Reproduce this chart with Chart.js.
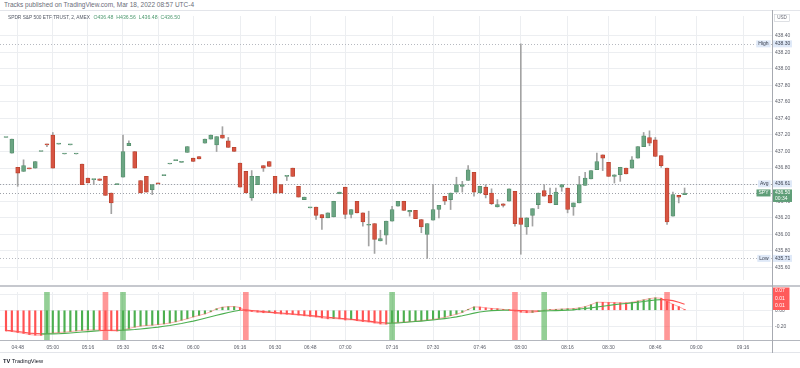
<!DOCTYPE html>
<html><head><meta charset="utf-8">
<script src="https://cdn.jsdelivr.net/npm/chart.js@4.4.0/dist/chart.umd.min.js"></script>
<style>
html,body{margin:0;padding:0;background:#fff;}
#wrap{position:relative;width:800px;height:368px;overflow:hidden;font-family:'Liberation Sans',Arial,sans-serif;background:#fff;}
canvas{position:absolute;left:0;}
#main{top:10px;}
#ind{top:286px;}
.t{position:absolute;white-space:nowrap;transform:scale(0.5);transform-origin:left top;}
.ln{position:absolute;}
</style></head><body>
<div id="wrap">
<canvas id="main" width="800" height="276"></canvas>
<canvas id="ind" width="800" height="82"></canvas>
<div class="t" style="left:4px;top:1px;font-size:13px;color:#6a6d78;">Tracks published on TradingView.com, Mar 18, 2022 08:57 UTC-4</div>
<div class="t" style="left:8px;top:13.5px;font-size:9.6px;color:#555a66;">SPDR S&amp;P 500 ETF TRUST, 2, AMEX<span style="margin-left:7px;font-size:10.4px;color:#4f9a70;">O436.48&nbsp;&nbsp;H436.56&nbsp;&nbsp;L436.48&nbsp;&nbsp;C436.50</span></div>
<div class="t" style="left:3px;top:358px;font-size:11.4px;color:#131722;"><b>TV</b> TradingView</div>
<div class="ln" style="left:0;top:10px;width:800px;height:1px;background:#e3e5ea;"></div>
<div class="ln" style="left:0;top:285px;width:800px;height:2px;background:#c6c8ce;"></div>
<div class="ln" style="left:0;top:340px;width:800px;height:1px;background:#b4b7be;"></div>
<div class="ln" style="left:0;top:352px;width:800px;height:1px;background:#e3e5ea;"></div>
<div class="ln" style="left:772px;top:10px;width:1px;height:343px;background:#a7aab1;"></div>
</div>
<script>
// ---------------- DATA ----------------
const OPEN = [437.17,436.98,436.81,436.76,436.80,436.80,437.00,437.09,437.20,437.09,
436.97,437.08,436.97,436.85,436.68,436.66,436.67,436.70,436.50,436.60,
436.69,437.07,437.00,436.65,436.70,436.54,436.62,436.71,436.85,436.89,
436.87,436.99,436.92,436.94,437.10,437.15,437.08,437.20,437.13,437.05,
436.86,436.76,436.44,436.60,436.83,436.88,436.70,436.60,436.70,436.80,
436.58,436.42,436.32,436.33,436.24,436.20,436.21,436.49,436.57,436.24,
436.40,436.26,436.11,436.13,435.92,435.99,436.16,436.34,436.40,436.27,
436.29,436.18,436.00,436.17,436.30,436.46,436.42,436.51,436.58,436.65,
436.75,436.50,436.57,436.50,436.33,436.37,436.40,436.52,436.20,436.09,
436.23,436.36,436.53,436.47,436.36,436.57,436.56,436.33,436.38,436.59,
436.67,436.78,436.96,436.87,436.70,436.72,436.80,436.80,436.92,437.06,
437.17,437.14,436.95,436.80,436.22,436.47,436.48];
const HIGH = [437.17,437.15,436.81,436.90,436.80,436.88,437.00,437.09,437.23,437.09,
436.97,437.08,436.97,436.85,436.68,436.66,436.67,436.70,436.50,436.61,
437.20,437.13,437.00,436.65,436.70,436.60,436.62,436.71,436.85,436.89,
436.87,437.06,436.92,436.94,437.15,437.20,437.18,437.30,437.17,437.05,
436.86,436.76,436.77,436.70,436.83,436.88,436.70,436.60,436.70,436.80,
436.58,436.45,436.32,436.33,436.24,436.26,436.40,436.51,436.57,436.30,
436.40,436.26,436.28,436.13,436.05,436.16,436.34,436.40,436.40,436.29,
436.29,436.18,436.13,436.60,436.35,436.46,436.50,436.69,436.64,436.83,
436.75,436.58,436.60,436.55,436.42,436.37,436.55,436.52,438.30,436.20,
436.31,436.50,436.60,436.56,436.56,436.60,436.56,436.38,436.70,436.75,
436.77,436.98,436.96,436.87,436.72,436.81,436.80,436.94,437.06,437.23,
437.25,437.17,436.95,436.80,436.51,436.47,436.56];
const LOW = [437.17,436.98,436.58,436.76,436.79,436.80,437.00,437.06,436.80,437.09,
436.97,437.08,436.97,436.60,436.62,436.60,436.65,436.47,436.25,436.60,
436.69,437.07,436.80,436.50,436.51,436.48,436.61,436.71,436.85,436.89,
436.87,436.99,436.88,436.91,437.10,437.15,437.00,437.16,437.05,437.00,
436.57,436.50,436.41,436.60,436.76,436.82,436.50,436.50,436.65,436.70,
436.45,436.42,436.32,436.18,436.06,436.20,436.21,436.49,436.19,436.20,
436.26,436.10,435.86,435.77,435.92,435.88,436.16,436.34,436.29,436.22,
436.19,436.02,435.71,436.17,436.20,436.36,436.30,436.51,436.51,436.65,
436.46,436.50,436.44,436.36,436.33,436.33,436.40,436.10,435.76,436.00,
436.10,436.31,436.46,436.38,436.36,436.52,436.26,436.23,436.38,436.59,
436.67,436.78,436.77,436.70,436.62,436.64,436.73,436.80,436.92,437.06,
437.07,436.94,436.81,436.12,436.22,436.38,436.48];
const CLOSE = [437.17,437.15,436.74,436.83,436.79,436.88,437.00,437.08,436.80,437.09,
436.97,437.08,436.97,436.60,436.62,436.66,436.65,436.47,436.38,436.61,
437.00,437.10,436.80,436.50,436.51,436.60,436.61,436.71,436.85,436.89,
436.87,437.06,436.88,436.91,437.15,437.20,437.18,437.16,437.05,437.00,
436.57,436.50,436.70,436.70,436.80,436.82,436.50,436.50,436.70,436.70,
436.45,436.45,436.32,436.23,436.20,436.26,436.40,436.51,436.24,436.30,
436.26,436.15,436.11,435.94,435.95,436.16,436.30,436.40,436.29,436.29,
436.19,436.09,436.13,436.30,436.35,436.40,436.50,436.60,436.60,436.78,
436.51,436.58,436.48,436.37,436.36,436.35,436.55,436.13,436.12,436.20,
436.31,436.50,436.46,436.38,436.51,436.60,436.30,436.38,436.60,436.68,
436.77,436.88,436.92,436.70,436.72,436.81,436.73,436.90,437.06,437.19,
437.10,436.94,436.83,436.15,436.48,436.45,436.50];
// indicator: fast value (histogram) and slow line
const FAST = [-0.258,-0.265,-0.277,-0.288,-0.303,-0.31,-0.312,-0.29,-0.284,-0.277,
-0.273,-0.265,-0.258,-0.25,-0.246,-0.245,-0.248,-0.252,-0.255,-0.258,
-0.246,-0.227,-0.21,-0.197,-0.19,-0.186,-0.178,-0.17,-0.159,-0.144,
-0.125,-0.106,-0.083,-0.064,-0.045,-0.019,0.019,0.038,0.045,0.046,
0.035,-0.008,-0.015,-0.023,-0.03,-0.028,-0.038,-0.045,-0.049,-0.053,
-0.06,-0.068,-0.076,-0.083,-0.095,-0.106,-0.104,-0.107,-0.12,-0.118,
-0.13,-0.14,-0.145,-0.158,-0.17,-0.172,-0.155,-0.151,-0.147,-0.141,
-0.136,-0.129,-0.121,-0.114,-0.102,-0.087,-0.068,-0.049,-0.027,0.011,
0.042,0.040,0.030,0.023,0.019,0.011,0.004,-0.008,-0.023,-0.03,
-0.027,-0.015,0.0,0.008,0.011,0.015,0.019,0.02,0.03,0.045,
0.07,0.1,0.099,0.097,0.095,0.093,0.092,0.1,0.115,0.13,
0.145,0.155,0.15,0.11,0.075,0.045,0.01];
const SLOW = [-0.25,-0.255,-0.265,-0.275,-0.285,-0.29,-0.295,-0.295,-0.294,-0.292,
-0.288,-0.283,-0.278,-0.272,-0.266,-0.26,-0.255,-0.25,-0.25,-0.25,
-0.249,-0.245,-0.24,-0.233,-0.226,-0.218,-0.21,-0.2,-0.19,-0.178,
-0.165,-0.15,-0.135,-0.118,-0.1,-0.082,-0.063,-0.045,-0.028,-0.012,
0.0,0.005,-0.003,-0.01,-0.017,-0.023,-0.029,-0.035,-0.041,-0.047,
-0.053,-0.059,-0.066,-0.073,-0.08,-0.087,-0.094,-0.1,-0.106,-0.112,
-0.12,-0.128,-0.136,-0.145,-0.152,-0.158,-0.162,-0.158,-0.153,-0.147,
-0.141,-0.135,-0.128,-0.121,-0.113,-0.104,-0.094,-0.082,-0.068,-0.052,
-0.036,-0.022,-0.012,-0.005,-0.001,0.001,0.002,0.0,-0.004,-0.008,
-0.01,-0.011,-0.01,-0.007,-0.004,-0.001,0.002,0.005,0.015,0.022,
0.03,0.04,0.05,0.06,0.07,0.078,0.085,0.092,0.1,0.11,
0.12,0.128,0.133,0.13,0.12,0.1,0.075];
const AVG_PRICE = 436.61;
const TIME_LEFT = '00:34';
const TICK_IDX = [2,8,14,20,26,32,40,46,52,58,66,73,81,88,96,103,111,118,126];
const TICK_LABELS = ['04:48','05:00','05:16','05:30','05:42','06:00','06:16','06:30','06:48','07:00','07:16','07:30','07:46','08:00','08:16','08:30','08:46','09:00','09:16'];
const PRICE_TICKS = [435.6,435.8,436.0,436.2,436.4,436.6,436.8,437.0,437.2,437.4,437.6,437.8,438.0,438.2,438.4];
const IND_TICKS = [0.2,0,-0.2];

// ---------------- LAYOUT / STYLE ----------------
const FONT = "'Liberation Sans', Arial, sans-serif";
Chart.defaults.font.family = FONT;
const BAR_W = 5.85, X0 = 6, PLOT_R = 772;
const X_MIN = -X0 / BAR_W, X_MAX = (PLOT_R - X0) / BAR_W;
const P_MAX = 436 + (238.3 - 10) / 86.6, P_MIN = 436 + (238.3 - 286) / 86.6;
const I_MAX = (306.5 - 286) / 90, I_MIN = (306.5 - 341) / 90;
const GRID = '#eceef1';
const UP = '#6ba583', UP_B = '#558f6c', DN = '#d75442', DN_B = '#b8432f', WICK = '#a3a3a3';
const G = '#4caf50', R = '#ff5252';
const idx = OPEN.map((_, i) => i);
const isUp = i => CLOSE[i] >= OPEN[i];
const HI_V = Math.max(...HIGH), LO_V = Math.min(...LOW), LAST = CLOSE[CLOSE.length - 1];

function roundRect(ctx, x, y, w, h, bg) { ctx.fillStyle = bg; ctx.fillRect(x, y, w, h); }
function tag(ctx, y, name, vals, bg, fg) {
  ctx.save();
  ctx.font = '5px ' + FONT;
  ctx.textBaseline = 'middle';
  const h = vals.length === 1 ? 7 : 12.5;
  const top = y - 3.5;
  roundRect(ctx, 773, top, 19, h, bg);
  ctx.fillStyle = fg; ctx.textAlign = 'left';
  vals.forEach((v, k) => ctx.fillText(v, 775, y + k * 5.8));
  const w = ctx.measureText(name).width + 4;
  roundRect(ctx, 770.5 - w, top, w, 7, bg);
  ctx.fillStyle = fg;
  ctx.fillText(name, 772.5 - w, y);
  ctx.restore();
}

const mainDecor = {
  id: 'mainDecor',
  beforeDatasetsDraw(chart) {
    const ctx = chart.ctx, ys = chart.scales.y, a = chart.chartArea;
    ctx.save();
    ctx.lineWidth = 1;
    ctx.setLineDash([1, 2]);
    [[HI_V, '#b6b9c0'], [AVG_PRICE, '#9ea1a8'], [LAST, '#9ea1a8'], [LO_V, '#b6b9c0']].forEach(([v, c]) => {
      const py = Math.round(ys.getPixelForValue(v)) + 0.5;
      ctx.strokeStyle = c;
      ctx.beginPath(); ctx.moveTo(a.left, py); ctx.lineTo(a.right, py); ctx.stroke();
    });
    ctx.restore();
  },
  afterDraw(chart) {
    const ctx = chart.ctx, ys = chart.scales.y;
    const LB = '#dfe9f8', LT = '#3b4150';
    tag(ctx, ys.getPixelForValue(HI_V), 'High', [HI_V.toFixed(2)], LB, LT);
    tag(ctx, ys.getPixelForValue(AVG_PRICE), 'Avg', [AVG_PRICE.toFixed(2)], LB, LT);
    tag(ctx, ys.getPixelForValue(LAST), 'SPY', [LAST.toFixed(2), TIME_LEFT], '#5f9e78', '#ffffff');
    tag(ctx, ys.getPixelForValue(LO_V), 'Low', [LO_V.toFixed(2)], LB, LT);
    // currency label
    ctx.save();
    ctx.fillStyle = '#fff'; ctx.fillRect(774, 4, 16, 8);
    ctx.strokeStyle = '#c9ccd2'; ctx.lineWidth = 0.6; ctx.strokeRect(774.5, 4.5, 15, 7);
    ctx.fillStyle = '#6a6d78'; ctx.font = '4.6px ' + FONT; ctx.textAlign = 'center'; ctx.textBaseline = 'middle';
    ctx.fillText('USD', 782, 8.2);
    ctx.restore();
  }
};

new Chart(document.getElementById('main'), {
  type: 'bar',
  data: {
    datasets: [
      { label: 'body', data: idx.map(i => ({ x: i, y: [OPEN[i], CLOSE[i]] })),
        backgroundColor: idx.map(i => isUp(i) ? UP : DN), borderColor: idx.map(i => isUp(i) ? UP_B : DN_B),
        borderWidth: 0.8, borderSkipped: false, barThickness: 4, minBarLength: 1, grouped: false, order: 1 },
      { label: 'wick', data: idx.map(i => ({ x: i, y: [LOW[i], HIGH[i]] })),
        backgroundColor: WICK, barThickness: 1, grouped: false, order: 2 }
    ]
  },
  options: {
    responsive: false, animation: false, devicePixelRatio: 1,
    layout: { padding: 0 },
    plugins: { legend: { display: false }, tooltip: { enabled: false } },
    scales: {
      x: { type: 'linear', min: X_MIN, max: X_MAX, offset: false,
        grid: { color: GRID, drawTicks: false, offset: false }, border: { display: false },
        ticks: { display: false },
        afterBuildTicks: s => { s.ticks = TICK_IDX.map(v => ({ value: v })); },
        afterFit: s => { s.height = 0; } },
      y: { type: 'linear', position: 'right', min: P_MIN, max: P_MAX,
        grid: { color: GRID, drawTicks: false }, border: { display: false },
        ticks: { font: { size: 5 }, color: '#5d606b', padding: 3, callback: v => Number(v).toFixed(2) },
        afterBuildTicks: s => { s.ticks = PRICE_TICKS.map(v => ({ value: v })); },
        afterFit: s => { s.width = 28; } }
    }
  },
  plugins: [mainDecor]
});

// crossings of fast vs slow
const SIGNALS = [];
for (let i = 1; i < FAST.length; i++) {
  const a = FAST[i - 1] - SLOW[i - 1], b = FAST[i] - SLOW[i];
  if (a < 0 && b >= 0) SIGNALS.push({ i, up: true });
  else if (a >= 0 && b < 0) SIGNALS.push({ i, up: false });
}

const indDecor = {
  id: 'indDecor',
  afterDraw(chart) {
    const ctx = chart.ctx;
    const n = FAST.length - 1;
    ctx.save();
    ctx.fillStyle = '#ff5a5a';
    ctx.fillRect(772.5, 1.5, 17, 22.5);
    ctx.fillStyle = '#fff'; ctx.font = '5px ' + FONT; ctx.textAlign = 'left'; ctx.textBaseline = 'middle';
    [SLOW[n], FAST[n], FAST[n]].forEach((v, k) => ctx.fillText(v.toFixed(2), 775, 4.8 + k * 7.5));
    ctx.restore();
  }
};

new Chart(document.getElementById('ind'), {
  type: 'bar',
  data: {
    datasets: [
      { type: 'bar', data: SIGNALS.map(s => ({ x: s.i, y: [I_MIN, I_MAX] })),
        backgroundColor: SIGNALS.map(s => s.up ? 'rgba(76,175,80,0.6)' : 'rgba(255,82,82,0.6)'),
        barThickness: 5, grouped: false, order: 0 },
      { type: 'line', data: idx.map(i => ({ x: i, y: SLOW[i] })), borderWidth: 1.1, pointRadius: 0, borderColor: G,
        segment: { borderColor: c => FAST[c.p1DataIndex] >= SLOW[c.p1DataIndex] ? G : R }, order: 1 },
      { type: 'line', data: idx.map(i => ({ x: i, y: FAST[i] })), borderWidth: 0.8, pointRadius: 0, borderColor: 'rgba(255,82,82,0.6)', order: 1.5 },
      { type: 'bar', data: idx.map(i => ({ x: i, y: FAST[i] })),
        backgroundColor: idx.map(i => (i > 0 && FAST[i] >= FAST[i - 1]) ? G : R),
        barThickness: 1.5, grouped: false, order: 2 }
    ]
  },
  options: {
    responsive: false, animation: false, devicePixelRatio: 1,
    layout: { padding: 0 },
    plugins: { legend: { display: false }, tooltip: { enabled: false } },
    scales: {
      x: { type: 'linear', min: X_MIN, max: X_MAX, offset: false,
        grid: { color: GRID, drawTicks: false, offset: false }, border: { display: false },
        ticks: { font: { size: 5 }, color: '#5d606b', padding: 4, maxRotation: 0, minRotation: 0, autoSkip: false,
          callback: v => { const k = TICK_IDX.indexOf(Math.round(v)); return k >= 0 ? TICK_LABELS[k] : ''; } },
        afterBuildTicks: s => { s.ticks = TICK_IDX.map(v => ({ value: v })); },
        afterFit: s => { s.height = 27; } },
      y: { type: 'linear', position: 'right', min: I_MIN, max: I_MAX,
        grid: { color: GRID, drawTicks: false }, border: { display: false },
        ticks: { font: { size: 5 }, color: '#5d606b', padding: 3, callback: v => Number(v).toFixed(2) },
        afterBuildTicks: s => { s.ticks = IND_TICKS.map(v => ({ value: v })); },
        afterFit: s => { s.width = 28; } }
    }
  },
  plugins: [indDecor]
});
</script>
</body></html>
